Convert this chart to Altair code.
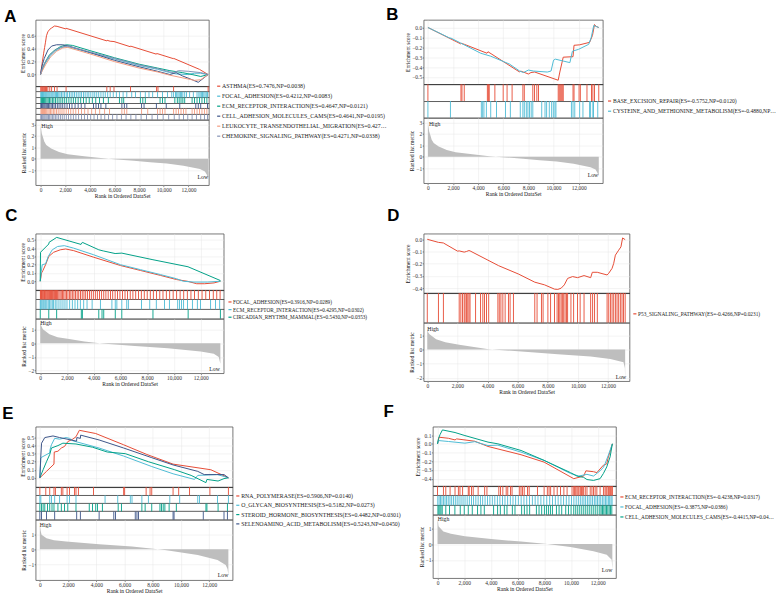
import altair as alt
import pandas as pd

SERIF = "Liberation Serif"
SANS = "Liberation Sans"
RED, CYAN, TEAL, NAVY, SALMON, SLATE = "#E64B35", "#4DBBD5", "#00A087", "#3C5488", "#F39B7F", "#8491B4"
X_TICKS = [0, 2000, 4000, 6000, 8000, 10000, 12000]

# ---------------- Panel A ----------------
A_LABELS = [
    "ASTHMA(ES=0.7476,NP=0.0038)",
    "FOCAL_ADHESION(ES=0.4212,NP=0.0083)",
    "ECM_RECEPTOR_INTERACTION(ES=0.4647,NP=0.0121)",
    "CELL_ADHESION_MOLECULES_CAMS(ES=0.4641,NP=0.0195)",
    "LEUKOCYTE_TRANSENDOTHELIAL_MIGRATION(ES=0.4273,NP=0.0328)",
    "CHEMOKINE_SIGNALING_PATHWAY(ES=0.4271,NP=0.0338)",
]
A_COLORS = [RED, CYAN, TEAL, NAVY, SALMON, SLATE]
A_ES_RANK = [
    [0, 60, 150, 250, 330, 400, 480, 590, 750, 900, 1130, 1340, 2050, 2070, 5380, 5400, 5650, 5960, 7280, 7300, 9400, 9420, 9530, 10790, 10800, 12900, 13600],
    [0, 150, 400, 800, 1200, 1600, 2000, 2400, 4000, 6000, 8000, 9500, 10500, 11000, 11900, 12500, 13000, 13600],
    [0, 150, 400, 700, 1100, 1600, 2100, 2600, 4000, 6000, 8000, 9500, 10500, 11500, 12300, 13000, 13600],
    [0, 100, 300, 600, 900, 1300, 1800, 2300, 4000, 6000, 8000, 9500, 10500, 11000, 11500, 12300, 12800, 13600],
    [0, 150, 400, 800, 1300, 1800, 2200, 4000, 6000, 8000, 9500, 10500, 11500, 12500, 13000, 13600],
    [0, 150, 400, 800, 1300, 1800, 2200, 4000, 6000, 8000, 9500, 10500, 10800, 11200, 12000, 13000, 13600],
]
A_ES_VAL = [
    [0, 0.08, 0.2, 0.33, 0.42, 0.5, 0.6, 0.66, 0.7, 0.72, 0.75, 0.745, 0.705, 0.715, 0.52, 0.53, 0.515, 0.51, 0.43, 0.44, 0.315, 0.325, 0.32, 0.245, 0.25, 0.08, 0.0],
    [0, 0.08, 0.18, 0.29, 0.36, 0.41, 0.43, 0.42, 0.34, 0.24, 0.14, 0.08, 0.03, 0.01, 0.0, 0.02, 0.02, 0.0],
    [0, 0.1, 0.2, 0.3, 0.37, 0.43, 0.46, 0.45, 0.37, 0.26, 0.16, 0.1, 0.06, 0.03, 0.0, -0.03, 0.0],
    [0, 0.12, 0.25, 0.38, 0.44, 0.46, 0.46, 0.44, 0.34, 0.22, 0.12, 0.05, 0.0, 0.03, -0.02, -0.08, -0.12, 0.0],
    [0, 0.06, 0.15, 0.27, 0.36, 0.41, 0.42, 0.32, 0.2, 0.1, 0.04, -0.01, -0.05, -0.09, -0.08, 0.0],
    [0, 0.1, 0.2, 0.31, 0.39, 0.43, 0.44, 0.35, 0.25, 0.15, 0.09, 0.04, 0.03, 0.06, 0.05, 0.03, 0.0],
]
A_HITS = [
    [20, 60, 150, 250, 330, 400, 480, 590, 750, 900, 1130, 1340, 2070, 5380, 5650, 5960, 7300, 9420, 9530, 10800, 13600],
    [20, 60, 110, 160, 230, 300, 380, 450, 520, 600, 680, 760, 850, 930, 1010, 1100, 1200, 1290, 1380, 1480, 1580, 1700, 1820, 1950, 2080, 2200,
     2350, 2480, 2620, 2750, 2900, 3050, 3200, 3330, 3480, 3620, 3780, 3920, 4080, 4250, 4400, 4560, 4720, 4900, 5080, 5250, 5450, 5650, 5900,
     6150, 6400, 6700, 7000, 7400, 7700, 8100, 8500, 8800, 9100, 9500, 9900, 10300, 10650, 10800, 10950, 11050, 11150, 11250, 11350, 11450,
     11550, 11700, 11850, 12100, 12400, 12700, 12850, 12950, 13050, 13150, 13250, 13350, 13450, 13550],
    [30, 90, 160, 240, 330, 420, 520, 620, 730, 840, 960, 1080, 1210, 1350, 1500, 1650, 1800, 1960, 2120, 2300, 2480, 2660, 2850, 3050, 3260,
     3480, 3700, 3950, 4200, 4480, 4780, 5100, 5500, 6400, 6600, 6750, 8100, 8300, 8500, 9700, 9900, 10100, 10900, 11100, 11250, 11400, 11550,
     11700, 12300, 12500, 12700, 12900, 13100, 13300, 13500],
    [20, 80, 140, 210, 290, 370, 460, 550, 650, 750, 860, 970, 1090, 1220, 1360, 1500, 1650, 1800, 1970, 2150, 2350, 2550, 2800, 3050, 3300,
     3600, 4300, 4500, 4700, 4900, 5300, 6600, 6800, 7000, 8200, 8400, 9400, 10200, 11300, 12600, 12800, 13000, 13550],
    [30, 90, 160, 240, 320, 410, 500, 600, 700, 810, 920, 1040, 1160, 1290, 1430, 1580, 1740, 1900, 2080, 2260, 2450, 2650, 2860, 3080, 3320,
     3580, 3850, 4150, 4450, 4800, 5200, 5600, 6600, 6800, 7000, 8200, 8700, 9500, 9700, 9900, 10100, 10800, 11000, 11200, 11400, 11600,
     11800, 12300, 12500, 12700, 12900, 13100, 13300, 13500],
    [20, 70, 130, 200, 280, 360, 450, 540, 640, 740, 850, 960, 1080, 1200, 1330, 1470, 1610, 1760, 1920, 2090, 2270, 2460, 2660, 2870, 3090,
     3320, 3560, 3810, 4070, 4340, 4620, 4910, 5210, 5520, 5850, 6200, 6560, 6940, 7330, 7740, 8160, 8600, 9050, 9500, 9950, 10400, 10850,
     11250, 11600, 11950, 12300, 12650, 13000, 13300, 13550],
]

# ---------------- Panel B ----------------
B_LABELS = [
    "BASE_EXCISION_REPAIR(ES=-0.5752,NP=0.0120)",
    "CYSTEINE_AND_METHIONINE_METABOLISM(ES=-0.4880,NP=0.0373)",
]
B_COLORS = [RED, CYAN]
B_ES_RANK = [
    [0, 2600, 2650, 2900, 4700, 4780, 7300, 7380, 8000, 8200, 8500, 10370, 10500, 10770, 11550, 11630, 12080, 12870, 13100, 13260, 13400, 13600],
    [0, 1790, 1800, 4200, 5000, 6500, 7300, 7600, 8000, 8400, 9500, 9800, 10000, 10150, 11300, 11500, 12000, 12800, 13000, 13200, 13400, 13600],
]
B_ES_VAL = [
    [0, -0.165, -0.16, -0.17, -0.26, -0.245, -0.45, -0.44, -0.47, -0.455, -0.45, -0.533, -0.45, -0.30, -0.295, -0.18, -0.175, -0.15, -0.08, 0.03, 0.01, 0.0],
    [0, -0.11, -0.105, -0.26, -0.29, -0.37, -0.44, -0.455, -0.43, -0.44, -0.45, -0.44, -0.33, -0.32, -0.355, -0.24, -0.22, -0.17, -0.10, 0.02, 0.01, 0.0],
]
B_HITS = [
    [0, 2630, 2710, 2890, 4730, 4810, 4880, 5330, 5990, 6300, 6700, 7560, 7670, 8350, 8480, 8670, 8800, 10370, 10450, 10530, 10610, 10690,
     10770, 11550, 11630, 12030, 12130, 12660, 13020, 13130, 13260, 13600],
    [0, 1790, 4250, 4360, 4460, 4650, 5000, 5460, 6170, 6560, 7350, 7560, 7670, 7830, 7960, 8090, 8220, 8350, 9060, 9320, 9450, 9660, 9850,
     9980, 10110, 10190, 11420, 11550, 11690, 12080, 12340, 12870, 12950, 13130, 13180, 13520],
]

# Ranked list metric shared by A and B
AB_MET_RANK = [1, 100, 190, 300, 460, 860, 1500, 2200, 3540, 4890, 6200, 7570, 8900, 10250, 11600, 12940, 13340, 13500, 13600]
AB_MET_VAL = [2.9, 2.2, 1.9, 1.5, 1.2, 0.9, 0.6, 0.4, 0.23, 0.06, -0.05, -0.17, -0.29, -0.4, -0.6, -0.9, -1.1, -1.4, -1.7]

# ---------------- Panel C ----------------
C_LABELS = [
    "FOCAL_ADHESION(ES=0.3916,NP=0.0289)",
    "ECM_RECEPTOR_INTERACTION(ES=0.4295,NP=0.0302)",
    "CIRCADIAN_RHYTHM_MAMMAL(ES=0.5430,NP=0.0353)",
]
C_COLORS = [RED, CYAN, TEAL]
C_ES_RANK = [
    [0, 100, 200, 400, 640, 1000, 1500, 1900, 2500, 4000, 6000, 7500, 9000, 10200, 11000, 11700, 12300, 13000, 13470],
    [0, 80, 150, 400, 600, 900, 1300, 1800, 2500, 4000, 6000, 7500, 9000, 10200, 10700, 11500, 12500, 13470],
    [0, 20, 640, 660, 1230, 3050, 3150, 4380, 4620, 4750, 5600, 6100, 8430, 11050, 13450, 13470],
]
C_ES_VAL = [
    [0, 0.1, 0.13, 0.2, 0.3, 0.35, 0.38, 0.39, 0.37, 0.29, 0.19, 0.13, 0.07, 0.02, 0.0, -0.03, -0.03, -0.02, 0.0],
    [0, 0.12, 0.2, 0.21, 0.3, 0.38, 0.42, 0.43, 0.4, 0.32, 0.2, 0.14, 0.08, 0.03, 0.0, -0.01, -0.01, 0.0],
    [0, 0.35, 0.45, 0.47, 0.53, 0.445, 0.47, 0.38, 0.37, 0.365, 0.335, 0.34, 0.26, 0.175, 0.01, 0.0],
]
C_HITS = [
    [10, 50, 100, 150, 200, 260, 320, 380, 440, 500, 560, 630, 700, 770, 840, 910, 980, 1060, 1140, 1220, 1300, 1390, 1480, 1570, 1660, 1760,
     1860, 1960, 2070, 2180, 2290, 2400, 2520, 2640, 2760, 2880, 3010, 3140, 3270, 3400, 3540, 3680, 3820, 3970, 4120, 4270, 4430, 4590,
     4750, 4910, 5080, 5250, 5420, 5600, 5780, 5960, 6150, 6340, 6530, 6730, 6930, 7140, 7350, 7560, 7780, 8000, 8230, 8460, 8700, 8940,
     9180, 9430, 9680, 9940, 10200, 10460, 10730, 11000, 11270, 11540, 11820, 12100, 12380, 12660, 12940, 13200, 13450],
    [0, 50, 120, 200, 270, 350, 420, 500, 600, 700, 800, 900, 1000, 1120, 1250, 1400, 1550, 1700, 1850, 2000, 2200, 2400, 2600, 2800, 3000,
     3250, 3500, 3880, 4500, 5360, 5610, 5730, 6100, 6470, 6590, 7570, 8190, 8680, 9290, 9660, 10280, 10420, 10570, 10720, 11010, 11380,
     11750, 11990, 12740, 13110, 13420],
    [0, 640, 1230, 3070, 3150, 4380, 4620, 4750, 5610, 6100, 8430, 11060, 13470],
]
C_MET_RANK = [1, 60, 200, 690, 1300, 2160, 3300, 4620, 7080, 9540, 12000, 12980, 13350, 13470]
C_MET_VAL = [1.57, 1.3, 1.04, 0.67, 0.45, 0.31, 0.13, -0.02, -0.19, -0.36, -0.6, -0.77, -1.0, -1.5]

# ---------------- Panel D ----------------
D_LABELS = ["P53_SIGNALING_PATHWAY(ES=-0.4266,NP=0.0231)"]
D_COLORS = [RED]
D_ES_RANK = [[0, 740, 1070, 2010, 2120, 2450, 2600, 2770, 2840, 4740, 6050, 7140, 7790, 8450, 8670, 8890, 9100, 9320, 9650, 9980, 10410,
              10850, 10960, 11290, 11940, 12050, 12270, 12380, 12490, 12710, 12860, 12970, 13140]]
D_ES_VAL = [[0, -0.025, -0.03, -0.097, -0.095, -0.105, -0.1, -0.092, -0.095, -0.216, -0.284, -0.351, -0.373, -0.408, -0.41, -0.40, -0.373,
             -0.32, -0.305, -0.314, -0.297, -0.314, -0.27, -0.27, -0.292, -0.278, -0.238, -0.197, -0.13, -0.089, -0.062, 0.011, -0.003]]
D_HITS = [[0, 740, 1070, 2120, 2230, 2340, 2450, 2510, 2600, 2690, 2770, 2840, 3210, 3540, 3690, 3800, 3930, 4080, 4690, 4780, 4890, 5020,
           5170, 5390, 5500, 5720, 7140, 7290, 7580, 7690, 8010, 8190, 8450, 8620, 8710, 8800, 8890, 8970, 9060, 9150, 9240, 9320, 9540,
           9720, 9980, 10150, 10410, 10850, 10980, 11110, 11290, 11940, 12050, 12160, 12270, 12380, 12490, 12600, 12710, 12820, 12930,
           13030, 13140]]
D_MET_RANK = [1, 60, 150, 590, 1200, 2120, 4080, 6480, 8670, 10850, 12160, 13030, 13120, 13140]
D_MET_VAL = [1.42, 1.2, 1.07, 0.72, 0.5, 0.33, 0.02, -0.16, -0.33, -0.49, -0.67, -0.9, -1.3, -2.07]

# ---------------- Panel E ----------------
E_LABELS = [
    "RNA_POLYMERASE(ES=0.5906,NP=0.0140)",
    "O_GLYCAN_BIOSYNTHESIS(ES=0.5182,NP=0.0273)",
    "STEROID_HORMONE_BIOSYNTHESIS(ES=0.4482,NP=0.0301)",
    "SELENOAMINO_ACID_METABOLISM(ES=0.5243,NP=0.0450)",
]
E_COLORS = [RED, CYAN, TEAL, NAVY]
E_ES_RANK = [
    [0, 470, 1000, 1020, 1280, 1520, 1750, 1980, 2330, 2560, 2800, 3960, 5940, 7580, 9440, 12120, 13360],
    [0, 70, 700, 720, 820, 1050, 1400, 1860, 2100, 2330, 4200, 5940, 7930, 9440, 10960, 11190, 12590, 13360],
    [0, 230, 470, 700, 820, 1280, 1630, 2560, 3730, 4780, 6060, 7690, 9560, 10720, 11770, 11840, 12630, 13050, 13360],
    [0, 60, 120, 350, 930, 1400, 2210, 2600, 2620, 2870, 2890, 4200, 5940, 7930, 9440, 11190, 11650, 12500, 13050, 13360],
]
E_ES_VAL = [
    [0, 0.08, 0.17, 0.32, 0.33, 0.37, 0.39, 0.45, 0.48, 0.51, 0.59, 0.55, 0.41, 0.29, 0.17, 0.10, 0.0],
    [0, 0.25, 0.31, 0.35, 0.41, 0.49, 0.48, 0.5, 0.49, 0.46, 0.37, 0.27, 0.14, 0.05, -0.02, 0.03, 0.04, 0.0],
    [0, 0.1, 0.2, 0.29, 0.37, 0.4, 0.43, 0.42, 0.38, 0.32, 0.3, 0.2, 0.1, 0.03, -0.06, -0.02, -0.04, -0.01, 0.0],
    [0, 0.25, 0.43, 0.5, 0.52, 0.5, 0.47, 0.455, 0.5, 0.49, 0.53, 0.47, 0.37, 0.25, 0.16, 0.08, 0.04, 0.04, 0.04, 0.0],
]
E_HITS = [
    [0, 420, 700, 1000, 1100, 1520, 1630, 1930, 2100, 2450, 2560, 2730, 3800, 5940, 6010, 7530, 7810, 7930, 9440, 9840, 10610, 12050, 13360],
    [0, 70, 700, 820, 1050, 1400, 1930, 2100, 2560, 4620, 5520, 6410, 6530, 7230, 7690, 9210, 9910, 11190, 11310, 12590, 13360],
    [0, 120, 230, 350, 540, 700, 860, 1000, 1280, 1520, 1750, 1980, 2560, 3500, 3730, 3960, 4080, 4430, 5550, 5780, 7230, 7460, 7930, 8510,
     8620, 8740, 8860, 9160, 9670, 11770, 11840, 12630, 13290],
    [0, 120, 470, 1050, 2610, 2870, 4200, 5240, 5360, 6760, 6880, 6990, 9440, 9510, 11580, 13050, 13290],
]
E_MET_RANK = [1, 50, 120, 470, 1000, 1860, 4200, 6530, 8860, 11190, 12590, 13170, 13300, 13360]
E_MET_VAL = [1.6, 1.25, 0.96, 0.73, 0.6, 0.51, 0.33, 0.18, -0.04, -0.38, -0.71, -1.04, -1.3, -1.7]

# ---------------- Panel F ----------------
F_LABELS = [
    "ECM_RECEPTOR_INTERACTION(ES=-0.4238,NP=0.0317)",
    "FOCAL_ADHESION(ES=-0.3875,NP=0.0386)",
    "CELL_ADHESION_MOLECULES_CAMS(ES=-0.4415,NP=0.0402)",
]
F_COLORS = [RED, CYAN, TEAL]
F_ES_RANK = [
    [0, 120, 815, 1310, 1430, 2790, 3780, 6250, 7980, 10200, 10940, 11110, 11680, 11930, 12420, 12670, 12790, 12960, 13090],
    [0, 70, 815, 2050, 2790, 3780, 4520, 6250, 7980, 9950, 10570, 11190, 11680, 12170, 12420, 12540, 12790, 13090],
    [0, 70, 200, 370, 1310, 2050, 3780, 4520, 6250, 7980, 9950, 10440, 10940, 11190, 11680, 12170, 12420, 12670, 12920, 13090],
]
F_ES_VAL = [
    [0, 0.076, 0.064, 0.045, 0.057, 0.03, -0.03, -0.125, -0.21, -0.40, -0.37, -0.31, -0.32, -0.33, -0.245, -0.23, -0.15, -0.07, 0.0],
    [0, 0.038, 0.027, 0.008, 0.025, -0.02, -0.015, -0.095, -0.19, -0.34, -0.37, -0.35, -0.37, -0.31, -0.27, -0.23, -0.13, 0.0],
    [0, 0.06, 0.11, 0.16, 0.13, 0.095, 0.02, 0.0, -0.076, -0.19, -0.33, -0.37, -0.385, -0.41, -0.42, -0.40, -0.34, -0.265, -0.15, 0.0],
]
F_HITS = [
    [0, 440, 620, 940, 1310, 1560, 1680, 1880, 2300, 2370, 2540, 2670, 3040, 3530, 3700, 4590, 4720, 4890, 5140, 5260, 5460, 5580, 6120,
     6250, 6370, 6490, 6740, 6860, 7480, 7980, 8220, 8350, 8470, 8720, 8960, 9210, 9460, 9700, 10070, 10200, 10270, 10350, 10440, 10520,
     10590, 10690, 10770, 10840, 10940, 11060, 11190, 11430, 11560, 11680, 11800, 11930, 12170, 12420, 12540, 12620, 12690, 12790, 12860,
     12940, 13010, 13090],
    [20, 120, 220, 330, 440, 560, 680, 800, 930, 1060, 1190, 1330, 1470, 1610, 1760, 1910, 2060, 2220, 2380, 2540, 2700, 2870, 3040, 3210,
     3380, 3560, 3740, 3920, 4100, 4290, 4480, 4670, 4860, 5050, 5250, 5450, 5650, 5850, 6050, 6260, 6470, 6680, 6890, 7100, 7310, 7520,
     7740, 7960, 8180, 8400, 8610, 8820, 9030, 9240, 9440, 9640, 9840, 10030, 10210, 10380, 10540, 10690, 10830, 10960, 11090, 11220,
     11350, 11480, 11610, 11740, 11860, 11980, 12100, 12220, 12340, 12460, 12570, 12680, 12790, 12890, 12990, 13070],
    [30, 100, 180, 260, 350, 620, 900, 1300, 1700, 2000, 2300, 2600, 3000, 3250, 3500, 4200, 4500, 4700, 5000, 5200, 5600, 5800, 6300, 6500,
     6700, 6900, 7400, 7600, 7800, 8000, 8150, 8300, 8450, 8600, 8900, 9100, 9300, 9600, 9800, 10000, 10200, 10350, 10500, 10650, 10800,
     10950, 11100, 11250, 11400, 11550, 11700, 11850, 12000, 12150, 12250, 12350, 12450, 12550, 12650, 12750, 12850, 12950, 13050],
]
F_MET_RANK = [1, 70, 440, 1000, 2050, 4020, 6250, 8220, 9950, 11680, 12670, 13040, 13090]
F_MET_VAL = [1.6, 1.14, 0.8, 0.65, 0.5, 0.32, 0.16, 0.0, -0.18, -0.45, -0.68, -1.0, -1.6]


def gsea_panel(letter, labels, colors, es_rank, es_val, hits, met_rank, met_val, high_at, low_at, g):
    es_rows = [
        {"set": lab, "rank": r, "es": v}
        for lab, rs, vs in zip(labels, es_rank, es_val)
        for r, v in zip(rs, vs)
    ]
    hit_rows = [{"set": lab, "rank": r} for lab, hs in zip(labels, hits) for r in hs]
    met_df = pd.DataFrame({"rank": met_rank, "metric": met_val})

    xscale = alt.Scale(domain=g["xdom"], nice=False, zero=False)
    mscale = alt.Scale(domain=g["mdom"], nice=False, zero=False)
    cscale = alt.Scale(domain=labels, range=colors)

    es_chart = alt.Chart(pd.DataFrame(es_rows)).mark_line(strokeWidth=1.0).encode(
        x=alt.X("rank:Q", scale=xscale,
                axis=alt.Axis(values=X_TICKS, labels=False, ticks=False, domain=False, title=None, grid=True)),
        y=alt.Y("es:Q", scale=alt.Scale(domain=g["esdom"], nice=False, zero=False),
                axis=alt.Axis(values=g["esticks"], format=".1f", title="Enrichment score", grid=True,
                              labelOverlap=False)),
        color=alt.Color("set:N", scale=cscale, sort=labels, legend=alt.Legend(
            orient="none", legendX=g["w"] + g["lx"], legendY=g["hes"] + g["ly"], title=None,
            symbolType="stroke", symbolSize=10, symbolStrokeWidth=1.2, labelFont=SERIF,
            labelFontSize=g["lfs"], labelColor="#222222", labelLimit=g.get("llim", 600),
            rowPadding=g["lrp"], padding=0, labelOffset=0.5, symbolOffset=0)),
    ).properties(width=g["w"], height=g["hes"])

    n = len(labels)
    hit_chart = alt.Chart(pd.DataFrame(hit_rows)).mark_tick(
        thickness=0.9, size=g["hhit"] / n, opacity=1
    ).encode(
        x=alt.X("rank:Q", scale=xscale, axis=None),
        y=alt.Y("set:N", sort=labels,
                scale=alt.Scale(domain=labels, paddingInner=0, paddingOuter=0),
                axis=alt.Axis(grid=True, bandPosition=0, labels=False, ticks=False, domain=False, title=None,
                              gridColor="#333333", gridWidth=0.8)),
        color=alt.Color("set:N", scale=cscale, legend=None),
    ).properties(width=g["w"], height=g["hhit"])

    # every layer of the metric panel carries the same axis definitions
    x_axis = alt.Axis(values=X_TICKS, format=",d", title="Rank in Ordered DataSet", grid=True, labelOverlap=False)
    y_axis = alt.Axis(values=g["mticks"], format="d", title="Ranked list metric", grid=True, labelOverlap=False)
    mx = alt.X("rank:Q", scale=xscale, axis=x_axis)
    my = alt.Y("metric:Q", scale=mscale, axis=y_axis)

    area = alt.Chart(met_df).mark_area(color="#BEBEBE", interpolate="linear").encode(
        x=mx, y=my, y2=alt.datum(0),
    )
    high = alt.Chart(pd.DataFrame({"rank": [high_at[0]], "metric": [high_at[1]], "t": ["High"]})).mark_text(
        align="left", baseline="middle", font=SERIF, fontSize=5.8, color="#222222"
    ).encode(x=mx, y=my, text="t:N")
    low = alt.Chart(pd.DataFrame({"rank": [low_at[0]], "metric": [low_at[1]], "t": ["Low"]})).mark_text(
        align="right", baseline="middle", font=SERIF, fontSize=5.8, color="#222222"
    ).encode(x=mx, y=my, text="t:N")
    met_chart = alt.layer(area, high, low).properties(width=g["w"], height=g["hmet"])

    return alt.vconcat(
        es_chart, hit_chart, met_chart, spacing=0, bounds="flush",
        title=alt.TitleParams(letter, anchor="start", font=SANS, fontSize=17, fontWeight="bold",
                              color="#000000", dx=g["tdx"], offset=g["toff"]),
    ).resolve_scale(color="independent", x="independent", y="independent")


pA = gsea_panel("A", A_LABELS, A_COLORS, A_ES_RANK, A_ES_VAL, A_HITS, AB_MET_RANK, AB_MET_VAL,
                (60, 2.83), (13600, -1.62),
                dict(w=175, hes=67, hhit=34, hmet=66, xdom=[-400, 13660], esdom=[-0.18, 0.845],
                     esticks=[0, 0.2, 0.4, 0.6], mdom=[-2.3, 3.4], mticks=[-1, 0, 1, 2, 3],
                     lx=7, ly=-2.95, lfs=5.9, lrp=3.1, llim=169, tdx=-16.5, toff=-6.5))
pB = gsea_panel("B", B_LABELS, B_COLORS, B_ES_RANK, B_ES_VAL, B_HITS, AB_MET_RANK, AB_MET_VAL,
                (80, 2.83), (13550, -1.62),
                dict(w=181, hes=65, hhit=34, hmet=66, xdom=[-340, 13920], esdom=[-0.573, 0.077],
                     esticks=[0, -0.1, -0.2, -0.3, -0.4, -0.5], mdom=[-2.3, 3.4], mticks=[-1, 0, 1, 2, 3],
                     lx=4, ly=14.15, lfs=5.7, lrp=3.3, llim=167, tdx=-19.4, toff=-4.5))
pC = gsea_panel("C", C_LABELS, C_COLORS, C_ES_RANK, C_ES_VAL, C_HITS, C_MET_RANK, C_MET_VAL,
                (0, 1.47), (13430, -1.86),
                dict(w=190, hes=57, hhit=29, hmet=55, xdom=[-344, 13720], esdom=[-0.107, 0.575],
                     esticks=[0, 0.1, 0.2, 0.3, 0.4, 0.5], mdom=[-2.2, 1.8], mticks=[-2, -1, 0, 1],
                     lx=3.7, ly=9.35, lfs=5.3, lrp=1.7, tdx=-15.5, toff=8.5))
pD = gsea_panel("D", D_LABELS, D_COLORS, D_ES_RANK, D_ES_VAL, D_HITS, D_MET_RANK, D_MET_VAL,
                (0, 1.42), (13210, -1.91),
                dict(w=208, hes=60, hhit=30, hmet=59, xdom=[-240, 13430], esdom=[-0.44, 0.046],
                     esticks=[0, -0.1, -0.2, -0.3, -0.4], mdom=[-2.23, 1.88], mticks=[-2, -1, 0, 1],
                     lx=2.7, ly=18.3, lfs=5.4, lrp=2, tdx=-18.4, toff=8.5))
pE = gsea_panel("E", E_LABELS, E_COLORS, E_ES_RANK, E_ES_VAL, E_HITS, E_MET_RANK, E_MET_VAL,
                (0, 1.62), (13360, -1.71),
                dict(w=199, hes=61, hhit=33, hmet=61, xdom=[-300, 13660], esdom=[-0.115, 0.635],
                     esticks=[0, 0.1, 0.2, 0.3, 0.4, 0.5], mdom=[-2.04, 1.96], mticks=[-1, 0, 1],
                     lx=2.3, ly=6.05, lfs=5.9, lrp=2.4, tdx=-18.5, toff=3.5))
pF = gsea_panel("F", F_LABELS, F_COLORS, F_ES_RANK, F_ES_VAL, F_HITS, F_MET_RANK, F_MET_VAL,
                (20, 1.59), (13090, -1.64),
                dict(w=185, hes=60, hhit=29, hmet=64, xdom=[-350, 13360], esdom=[-0.485, 0.197],
                     esticks=[0.1, 0, -0.1, -0.2, -0.3, -0.4], mdom=[-2.16, 1.86], mticks=[-1, 0, 1],
                     lx=3.3, ly=8.3, lfs=5.4, lrp=3.1, llim=152, tdx=-31.4, toff=5.5))

res = dict(color="independent", x="independent", y="independent")
row1 = alt.hconcat(pA, pB, spacing=-2).resolve_scale(**res)
row2 = alt.hconcat(pC, pD, spacing=18).resolve_scale(**res)
row3 = alt.hconcat(pE, pF, spacing=-18.7).resolve_scale(**res)

chart = alt.vconcat(row1, row2, row3, spacing=7).resolve_scale(**res).properties(
    padding={"left": 2, "top": 3, "right": 0, "bottom": 0}, background="white"
).configure_view(
    stroke="#555555", strokeWidth=0.8
).configure_axis(
    labelFont=SERIF, labelFontSize=5.5, labelColor="#333333", titleFont=SERIF, titleFontSize=5.6,
    titleFontWeight="normal", titleColor="#111111", tickColor="#444444", tickSize=1.5, tickWidth=0.6,
    gridColor="#E6E6E6", gridWidth=0.5, domain=False, labelPadding=0.5, titlePadding=1,
    labelOverlap=False, labelFlush=False, labelBound=False
)

chart.save("out.html", embed_options={"renderer": "svg", "actions": False})
